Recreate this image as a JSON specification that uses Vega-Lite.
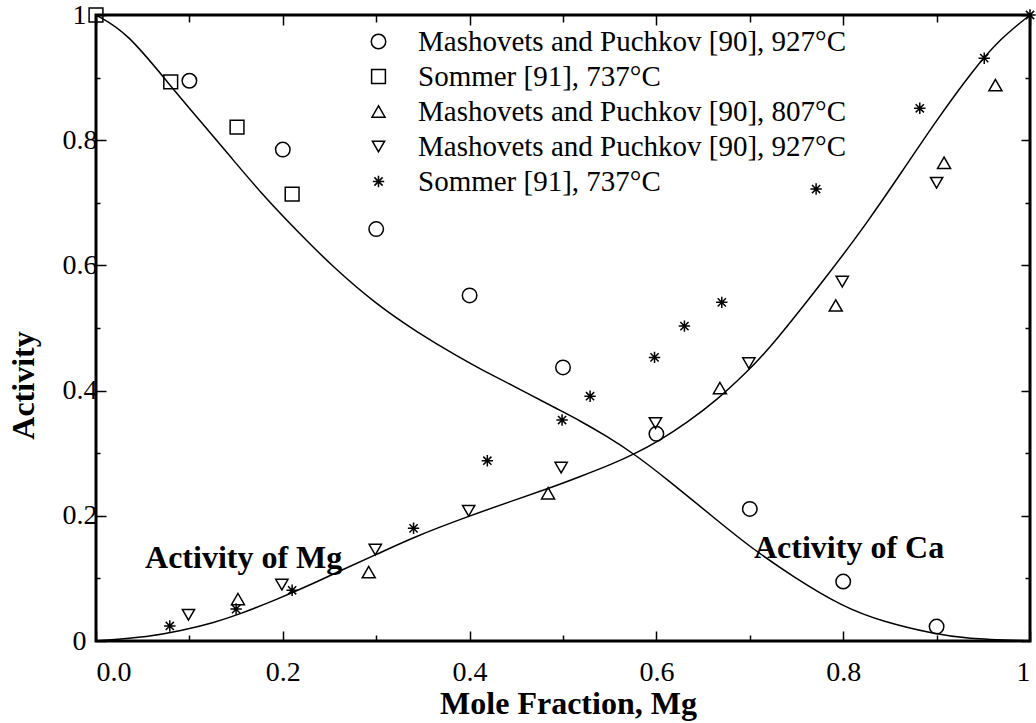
{
  "$schema": "https://vega.github.io/schema/vega-lite/v6.json",
  "width": 934,
  "height": 626,
  "autosize": "none",
  "padding": {"left": 96, "top": 15, "right": 6, "bottom": 82},
  "background": "white",
  "config": {
    "view": {"stroke": "black", "strokeWidth": 3},
    "font": "Liberation Serif",
    "style": {"guide-label": {"font": "Liberation Serif"}, "guide-title": {"font": "Liberation Serif"}},
    "axis": {"labelFont": "Liberation Serif", "titleFont": "Liberation Serif", "labelColor": "black", "titleColor": "black", "tickColor": "black", "tickWidth": 1.5, "grid": false, "domain": false, "labelOverlap": false},
    "legend": {"labelFont": "Liberation Serif", "labelFontSize": 29, "labelColor": "black", "titleFont": "Liberation Serif"}
  },
  "datasets": {
    "obs": [
      {"s": "c", "x": 0.1, "y": 0.895}, {"s": "c", "x": 0.2, "y": 0.785}, {"s": "c", "x": 0.3, "y": 0.658},
      {"s": "c", "x": 0.4, "y": 0.552}, {"s": "c", "x": 0.5, "y": 0.437}, {"s": "c", "x": 0.6, "y": 0.331},
      {"s": "c", "x": 0.7, "y": 0.211}, {"s": "c", "x": 0.8, "y": 0.095}, {"s": "c", "x": 0.9, "y": 0.023},
      {"s": "q", "x": 0.0, "y": 1.0}, {"s": "q", "x": 0.08, "y": 0.893}, {"s": "q", "x": 0.151, "y": 0.821}, {"s": "q", "x": 0.21, "y": 0.714},
      {"s": "tu", "x": 0.152, "y": 0.067}, {"s": "tu", "x": 0.292, "y": 0.11}, {"s": "tu", "x": 0.484, "y": 0.236},
      {"s": "tu", "x": 0.668, "y": 0.404}, {"s": "tu", "x": 0.792, "y": 0.536}, {"s": "tu", "x": 0.908, "y": 0.764}, {"s": "tu", "x": 0.963, "y": 0.888},
      {"s": "td", "x": 0.099, "y": 0.042}, {"s": "td", "x": 0.199, "y": 0.09}, {"s": "td", "x": 0.299, "y": 0.146},
      {"s": "td", "x": 0.399, "y": 0.208}, {"s": "td", "x": 0.498, "y": 0.277}, {"s": "td", "x": 0.599, "y": 0.348},
      {"s": "td", "x": 0.699, "y": 0.444}, {"s": "td", "x": 0.799, "y": 0.574}, {"s": "td", "x": 0.9, "y": 0.732},
      {"s": "st", "x": 0.079, "y": 0.024}, {"s": "st", "x": 0.15, "y": 0.051}, {"s": "st", "x": 0.21, "y": 0.081},
      {"s": "st", "x": 0.34, "y": 0.18}, {"s": "st", "x": 0.419, "y": 0.288}, {"s": "st", "x": 0.499, "y": 0.353},
      {"s": "st", "x": 0.529, "y": 0.391}, {"s": "st", "x": 0.598, "y": 0.453}, {"s": "st", "x": 0.63, "y": 0.503},
      {"s": "st", "x": 0.67, "y": 0.541}, {"s": "st", "x": 0.771, "y": 0.722}, {"s": "st", "x": 0.882, "y": 0.851},
      {"s": "st", "x": 0.951, "y": 0.931}, {"s": "st", "x": 1.0, "y": 1.0}
    ],
    "curves": [
      {"c": "Ca", "x": 0, "y": 1}, {"c": "Ca", "x": 0.033, "y": 0.973}, {"c": "Ca", "x": 0.08, "y": 0.886},
      {"c": "Ca", "x": 0.111, "y": 0.832}, {"c": "Ca", "x": 0.147, "y": 0.768}, {"c": "Ca", "x": 0.183, "y": 0.705},
      {"c": "Ca", "x": 0.218, "y": 0.651}, {"c": "Ca", "x": 0.254, "y": 0.597}, {"c": "Ca", "x": 0.3, "y": 0.538},
      {"c": "Ca", "x": 0.343, "y": 0.494}, {"c": "Ca", "x": 0.39, "y": 0.452}, {"c": "Ca", "x": 0.411, "y": 0.435},
      {"c": "Ca", "x": 0.45, "y": 0.405}, {"c": "Ca", "x": 0.496, "y": 0.369}, {"c": "Ca", "x": 0.518, "y": 0.352},
      {"c": "Ca", "x": 0.547, "y": 0.327}, {"c": "Ca", "x": 0.577, "y": 0.298}, {"c": "Ca", "x": 0.611, "y": 0.259},
      {"c": "Ca", "x": 0.664, "y": 0.194}, {"c": "Ca", "x": 0.6995, "y": 0.151}, {"c": "Ca", "x": 0.746, "y": 0.103},
      {"c": "Ca", "x": 0.799, "y": 0.055}, {"c": "Ca", "x": 0.842, "y": 0.031}, {"c": "Ca", "x": 0.899, "y": 0.011},
      {"c": "Ca", "x": 0.93, "y": 0.004}, {"c": "Ca", "x": 1, "y": 0},
      {"c": "Mg", "x": 0, "y": 0}, {"c": "Mg", "x": 0.058, "y": 0.007}, {"c": "Mg", "x": 0.09, "y": 0.016},
      {"c": "Mg", "x": 0.126, "y": 0.029}, {"c": "Mg", "x": 0.154, "y": 0.043}, {"c": "Mg", "x": 0.193, "y": 0.066},
      {"c": "Mg", "x": 0.233, "y": 0.092}, {"c": "Mg", "x": 0.261, "y": 0.112}, {"c": "Mg", "x": 0.3, "y": 0.138},
      {"c": "Mg", "x": 0.34, "y": 0.166}, {"c": "Mg", "x": 0.4, "y": 0.2}, {"c": "Mg", "x": 0.45, "y": 0.226},
      {"c": "Mg", "x": 0.485, "y": 0.244}, {"c": "Mg", "x": 0.518, "y": 0.2625}, {"c": "Mg", "x": 0.55, "y": 0.281},
      {"c": "Mg", "x": 0.577, "y": 0.299}, {"c": "Mg", "x": 0.604, "y": 0.321}, {"c": "Mg", "x": 0.632, "y": 0.348},
      {"c": "Mg", "x": 0.665, "y": 0.385}, {"c": "Mg", "x": 0.697, "y": 0.43}, {"c": "Mg", "x": 0.722, "y": 0.468},
      {"c": "Mg", "x": 0.789, "y": 0.595}, {"c": "Mg", "x": 0.825, "y": 0.667}, {"c": "Mg", "x": 0.864, "y": 0.752},
      {"c": "Mg", "x": 0.9, "y": 0.832}, {"c": "Mg", "x": 0.939, "y": 0.912}, {"c": "Mg", "x": 0.968, "y": 0.962},
      {"c": "Mg", "x": 1, "y": 1}
    ],
    "notes": [
      {"x": 0.0525, "y": 0.1326, "t": "Activity of Mg"},
      {"x": 0.7045, "y": 0.1486, "t": "Activity of Ca"}
    ]
  },
  "resolve": {"axis": {"x": "independent", "y": "independent"}},
  "layer": [
    {
      "data": {"name": "obs"},
      "mark": {"type": "point", "filled": false, "color": "black", "strokeWidth": 1.5, "opacity": 1, "clip": false},
      "encoding": {
        "x": {"field": "x", "type": "quantitative", "scale": {"domain": [0, 1], "nice": false, "zero": false},
          "axis": {"orient": "bottom", "values": [0, 0.1, 0.2, 0.3, 0.4, 0.5, 0.6, 0.7, 0.8, 0.9, 1],
            "labelExpr": "round(datum.value*10)%2==0 ? (datum.value==1 ? '1' : format(datum.value, '.1f')) : ''",
            "tickSize": {"condition": {"test": "round(datum.value*10)%2==0", "value": -10}, "value": -6},
            "labelFontSize": 28, "labelPadding": 27, "labelFlush": true,
            "title": "Mole Fraction, Mg", "titleFontSize": 32, "titleFontWeight": "bold",
            "titleX": 472, "titleY": 72, "titleBaseline": "alphabetic", "titleAlign": "center"}},
        "y": {"field": "y", "type": "quantitative", "scale": {"domain": [0, 1], "nice": false, "zero": false},
          "axis": {"orient": "left", "values": [0, 0.1, 0.2, 0.3, 0.4, 0.5, 0.6, 0.7, 0.8, 0.9, 1],
            "labelExpr": "round(datum.value*10)%2==0 ? (datum.value==1 ? '1' : datum.value==0 ? '0' : format(datum.value, '.1f')) : ''",
            "tickSize": {"condition": {"test": "round(datum.value*10)%2==0", "value": -10}, "value": -4},
            "labelFontSize": 28, "labelFlush": false,
            "labelPadding": {"condition": {"test": "datum.value==0 || datum.value==1", "value": 20}, "value": 9},
            "title": "Activity", "titleFontSize": 32, "titleFontWeight": "bold",
            "titleX": -63, "titleY": 370, "titleBaseline": "alphabetic", "titleAlign": "center", "titleAngle": -90}},
        "shape": {"field": "s", "type": "nominal",
          "scale": {"domain": ["c", "q", "tu", "td", "st"],
            "range": ["circle", "square", "triangle-up", "triangle-down", "M0,-1L0,1M-1,0L1,0M-0.72,-0.72L0.72,0.72M-0.72,0.72L0.72,-0.72"]},
          "legend": {"orient": "none", "legendX": 268, "legendY": 12, "title": null, "padding": 0,
            "labelFont": "Liberation Serif", "labelFontSize": 29, "labelColor": "black", "labelOffset": 25,
            "symbolStrokeColor": "black", "symbolStrokeWidth": 1.5, "symbolFillColor": "transparent",
            "rowPadding": 5, "labelLimit": 600,
            "labelExpr": "datum.value=='c' ? 'Mashovets and Puchkov [90], 927°C' : datum.value=='q' ? 'Sommer [91], 737°C' : datum.value=='tu' ? 'Mashovets and Puchkov [90], 807°C' : datum.value=='td' ? 'Mashovets and Puchkov [90], 927°C' : 'Sommer [91], 737°C'"}},
        "size": {"field": "s", "type": "nominal",
          "scale": {"domain": ["c", "q", "tu", "td", "st"], "range": [210, 130, 185, 185, 190]},
          "legend": {"orient": "none", "legendX": 268, "legendY": 12, "title": null, "padding": 0,
            "labelFont": "Liberation Serif", "labelFontSize": 29, "labelColor": "black", "labelOffset": 25,
            "symbolStrokeColor": "black", "symbolStrokeWidth": 1.5, "symbolFillColor": "transparent",
            "rowPadding": 5, "labelLimit": 600,
            "labelExpr": "datum.value=='c' ? 'Mashovets and Puchkov [90], 927°C' : datum.value=='q' ? 'Sommer [91], 737°C' : datum.value=='tu' ? 'Mashovets and Puchkov [90], 807°C' : datum.value=='td' ? 'Mashovets and Puchkov [90], 927°C' : 'Sommer [91], 737°C'"}}
      }
    },
    {
      "data": {"name": "curves"},
      "mark": {"type": "line", "color": "black", "strokeWidth": 1.5, "interpolate": "basis"},
      "encoding": {
        "x": {"field": "x", "type": "quantitative", "scale": {"domain": [0, 1], "nice": false, "zero": false},
          "axis": {"orient": "top", "values": [0, 0.1, 0.2, 0.3, 0.4, 0.5, 0.6, 0.7, 0.8, 0.9, 1], "labels": false, "title": null,
            "tickSize": {"condition": {"test": "round(datum.value*10)%2==0", "value": -10}, "value": -7}}},
        "y": {"field": "y", "type": "quantitative", "scale": {"domain": [0, 1], "nice": false, "zero": false},
          "axis": {"orient": "right", "values": [0, 0.1, 0.2, 0.3, 0.4, 0.5, 0.6, 0.7, 0.8, 0.9, 1], "labels": false, "title": null,
            "tickSize": {"condition": {"test": "round(datum.value*10)%2==0", "value": -9}, "value": -5}}},
        "detail": {"field": "c", "type": "nominal"}
      }
    },
    {
      "data": {"name": "notes"},
      "mark": {"type": "text", "align": "left", "baseline": "middle", "font": "Liberation Serif", "fontSize": 32, "fontWeight": "bold", "color": "black"},
      "encoding": {
        "x": {"field": "x", "type": "quantitative", "axis": null},
        "y": {"field": "y", "type": "quantitative", "axis": null},
        "text": {"field": "t", "type": "nominal"}
      }
    }
  ]
}
